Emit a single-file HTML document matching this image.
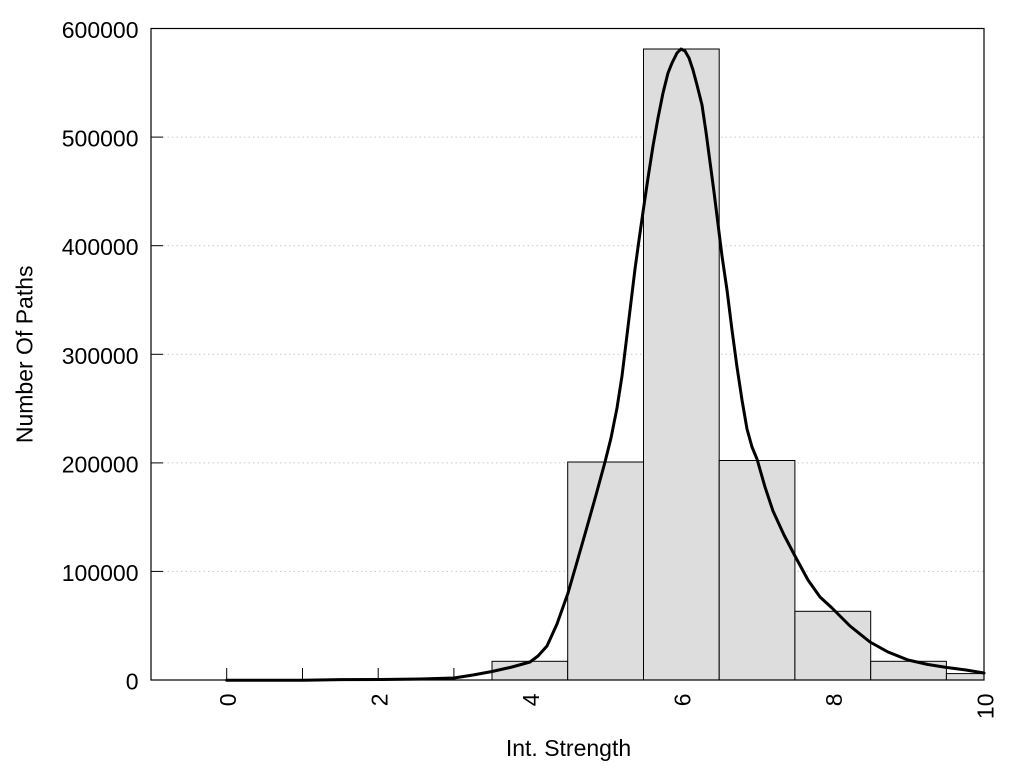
<!DOCTYPE html>
<html>
<head>
<meta charset="utf-8">
<style>
html,body{margin:0;padding:0;background:#fff;}
svg{display:block;}
text{font-family:"Liberation Sans",Arial,sans-serif;fill:#000;}
</style>
</head>
<body>
<svg width="1024" height="768" viewBox="0 0 1024 768" xmlns="http://www.w3.org/2000/svg">
<rect x="0" y="0" width="1024" height="768" fill="#fff"/>
<!-- gridlines -->
<g stroke="#c8c8c8" stroke-width="1" stroke-dasharray="1.5,3">
<line x1="163" y1="571.4" x2="984" y2="571.4"/>
<line x1="163" y1="462.9" x2="984" y2="462.9"/>
<line x1="163" y1="354.3" x2="984" y2="354.3"/>
<line x1="163" y1="245.7" x2="984" y2="245.7"/>
<line x1="163" y1="137.1" x2="984" y2="137.1"/>
</g>
<!-- ticks -->
<g stroke="#000" stroke-width="1">
<line x1="151" y1="571.4" x2="163" y2="571.4"/>
<line x1="151" y1="462.9" x2="163" y2="462.9"/>
<line x1="151" y1="354.3" x2="163" y2="354.3"/>
<line x1="151" y1="245.7" x2="163" y2="245.7"/>
<line x1="151" y1="137.1" x2="163" y2="137.1"/>
<line x1="226.7" y1="680" x2="226.7" y2="668"/>
<line x1="302.5" y1="680" x2="302.5" y2="668"/>
<line x1="378.2" y1="680" x2="378.2" y2="668"/>
<line x1="453.9" y1="680" x2="453.9" y2="668"/>
<line x1="529.7" y1="680" x2="529.7" y2="668"/>
<line x1="605.4" y1="680" x2="605.4" y2="668"/>
<line x1="681.1" y1="680" x2="681.1" y2="668"/>
<line x1="756.8" y1="680" x2="756.8" y2="668"/>
<line x1="832.6" y1="680" x2="832.6" y2="668"/>
<line x1="908.3" y1="680" x2="908.3" y2="668"/>
</g>
<!-- bars -->
<g fill="#dddddd" stroke="#000" stroke-width="1">
<rect x="492" y="661.3" width="75.7" height="18.7"/>
<rect x="567.7" y="462" width="75.8" height="218"/>
<rect x="643.5" y="49" width="75.7" height="631"/>
<rect x="719.2" y="460.5" width="75.7" height="219.5"/>
<rect x="794.9" y="611.3" width="75.8" height="68.7"/>
<rect x="870.7" y="661.3" width="75.7" height="18.7"/>
<rect x="946.4" y="673.6" width="37.6" height="6.4"/>
</g>
<!-- curve -->
<polyline fill="none" stroke="#000" stroke-width="3" stroke-linejoin="round" stroke-linecap="round"
points="226.7,680.3 260,680.3 303,680.2 340,679.6 378,679.5 420,679 454,678 473,675 492,671.5 512,667 530,662 538,656 547,646 557,624 568,593 577,562 587,527 596,495 605,462 611,438 617,408 622,376 627,335 631,302 635,269 639,240 643,212 648,178 653,146 658,118 663,93 668,73 672,63 677,53 681,49 685,51 689,58 693,70 697,85 702,105 706,132 710,162 714,192 718,224 722,256 727,290 732,330 737,367 742,400 747,429 752,447 757,459 765,487 773,511 784,535 795,556 808,580 820,597 832,608 850,626 870,642 888,652 908,660 928,664.5 947,667.5 966,670 984,673"/>
<!-- frame -->
<rect x="151" y="28.5" width="833" height="651.5" fill="none" stroke="#000" stroke-width="1.2"/>
<!-- y tick labels -->
<g font-size="23" text-anchor="end">
<text x="138.5" y="689.5">0</text>
<text x="138.5" y="580.9">100000</text>
<text x="138.5" y="472.4">200000</text>
<text x="138.5" y="363.8">300000</text>
<text x="138.5" y="255.2">400000</text>
<text x="138.5" y="146.6">500000</text>
<text x="138.5" y="38">600000</text>
</g>
<!-- x tick labels -->
<g font-size="23" text-anchor="end">
<text transform="translate(236.2,693.5) rotate(-90)">0</text>
<text transform="translate(387.7,693.5) rotate(-90)">2</text>
<text transform="translate(539.2,693.5) rotate(-90)">4</text>
<text transform="translate(690.6,693.5) rotate(-90)">6</text>
<text transform="translate(842.1,693.5) rotate(-90)">8</text>
<text transform="translate(993.5,693.5) rotate(-90)">10</text>
</g>
<!-- axis titles -->
<text x="568.5" y="756" font-size="23" text-anchor="middle">Int. Strength</text>
<text transform="translate(32.5,354.3) rotate(-90)" font-size="23" text-anchor="middle">Number Of Paths</text>
</svg>
</body>
</html>
